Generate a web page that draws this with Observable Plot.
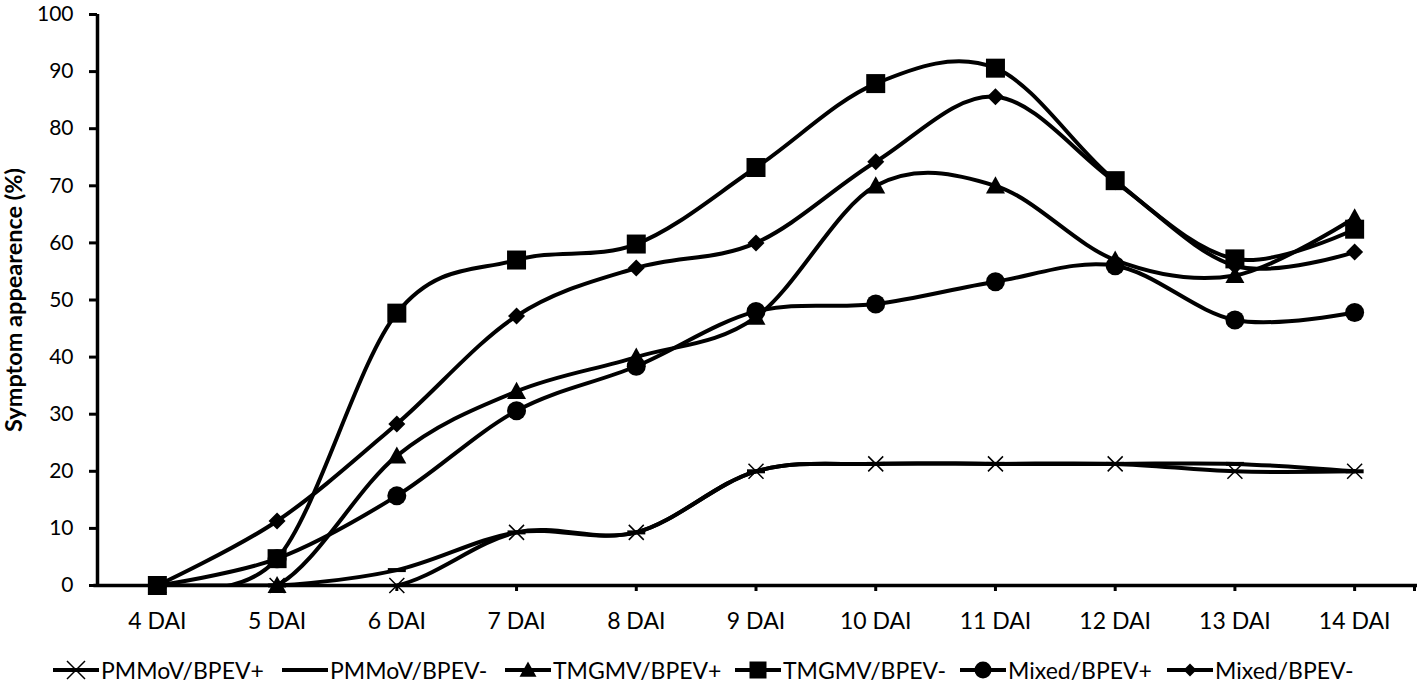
<!DOCTYPE html>
<html>
<head>
<meta charset="utf-8">
<script src="https://cdn.jsdelivr.net/npm/d3@7"></script>
<script src="https://cdn.jsdelivr.net/npm/@observablehq/plot@0.6"></script>
<style>
  body { margin: 0; background: #fff; font-family: Lato, "Open Sans", sans-serif; }
  #wrap { position: relative; width: 1417px; height: 683px; overflow: hidden; }
  #legend { position: absolute; left: 0; top: 640px; width: 1417px; height: 43px; }
  .item { position: absolute; top: 20px; height: 20px; display: flex; align-items: center; white-space: nowrap; }
  .item svg { display: block; margin-right: 2px; }
  .item span { font-size: 23px; color: #000; line-height: 20px; }
</style>
</head>
<body>
<div id="wrap">
  <div id="chart"></div>
  <div id="legend"></div>
</div>
<script>
// ---- data ----
const days = [4, 5, 6, 7, 8, 9, 10, 11, 12, 13, 14];
const dayLabels = ["4 DAI", "5 DAI", "6 DAI", "7 DAI", "8 DAI", "9 DAI", "10 DAI", "11 DAI", "12 DAI", "13 DAI", "14 DAI"];
const yTicks = [0, 10, 20, 30, 40, 50, 60, 70, 80, 90, 100];
const yLabel = "Symptom appearence (%)";
const seriesNames = ["PMMoV/BPEV+", "PMMoV/BPEV-", "TMGMV/BPEV+", "TMGMV/BPEV-", "Mixed/BPEV+", "Mixed/BPEV-"];
const pmmovPlus  = [0, 0, 0, 9.3, 9.3, 20, 21.3, 21.3, 21.3, 20, 20];
const pmmovMinus = [0, 0, 2.7, 9.3, 9.3, 20, 21.3, 21.3, 21.3, 21.3, 20];
const tmgmvPlus  = [0, 0, 22.7, 34, 40, 47, 70, 70, 57, 54.3, 64.4];
const tmgmvMinus = [0, 4.7, 47.7, 57, 59.8, 73.2, 87.9, 90.6, 70.9, 57.2, 62.4];
const mixedPlus  = [0, 4.7, 15.7, 30.6, 38.4, 48, 49.3, 53.2, 56, 46.5, 47.8];
const mixedMinus = [0, 11.3, 28.3, 47.2, 55.6, 60, 74.2, 85.6, 70.7, 56, 58.4];
const seriesValues = [pmmovPlus, pmmovMinus, tmgmvPlus, tmgmvMinus, mixedPlus, mixedMinus];

// ---- symbols (size = PI r^2, so R gives r back) ----
const R = s => Math.sqrt(s / Math.PI);
const symSquare = {draw(c, s) { const r = R(s); c.rect(-r, -r, 2 * r, 2 * r); }};
const symDiamond = {draw(c, s) { const r = R(s); c.moveTo(0, -r); c.lineTo(r, 0); c.lineTo(0, r); c.lineTo(-r, 0); c.closePath(); }};
const symTriangle = {draw(c, s) { const r = R(s); c.moveTo(0, -r); c.lineTo(r, r * 0.8); c.lineTo(-r, r * 0.8); c.closePath(); }};
const symTimes = {draw(c, s) { const r = R(s); c.moveTo(-r, -r); c.lineTo(r, r); c.moveTo(r, -r); c.lineTo(-r, r); }};
const symDash = {draw(c, s) { const r = R(s); c.moveTo(-r, 0); c.lineTo(r, 0); }};
const symCircle = {draw(c, s) { const r = R(s); c.moveTo(r, 0); c.arc(0, 0, r, 0, 2 * Math.PI); }};

const styles = [
  {sym: symTimes, r: 7.5, fill: "none", stroke: "#000", sw: 1.5, lr: 9},
  {sym: symDash, r: 9, fill: "none", stroke: "#000", sw: 4, lr: 9},
  {sym: symTriangle, r: 9.5, fill: "#000", stroke: "none", sw: 0, lr: 8.5},
  {sym: symSquare, r: 9.5, fill: "#000", stroke: "none", sw: 0, lr: 8.5},
  {sym: symCircle, r: 9.5, fill: "#000", stroke: "none", sw: 0, lr: 8.5},
  {sym: symDiamond, r: 8.5, fill: "#000", stroke: "none", sw: 0, lr: 6.5}
];

const rows = seriesNames.flatMap((name, k) => days.map((d, i) => ({series: name, day: d, value: seriesValues[k][i]})));

const labelFor = d => { const i = days.indexOf(d); return i >= 0 ? dayLabels[i] : ""; };

const marks = [
  Plot.ruleY([0], {x1: 3.47, x2: 14.53, stroke: "#000", strokeWidth: 3.5}),
  Plot.ruleX([3.5], {y1: 0, y2: 100, stroke: "#000", strokeWidth: 3.5}),
  Plot.axisY({ticks: yTicks, tickSize: 8, tickPadding: 16, strokeWidth: 3, fontSize: 21, tickFormat: d => String(d), label: null}),
  Plot.axisX({ticks: [...days, 14.5], tickSize: 6, tickPadding: 21, strokeWidth: 3, fontSize: 23, tickFormat: labelFor, label: null}),
  Plot.text([yLabel], {frameAnchor: "left", textAnchor: "middle", rotate: -90, dx: -83, fontSize: 23.5, fontWeight: "bold", fill: "#000"})
];

seriesNames.forEach((name, k) => {
  marks.push(Plot.line(rows.filter(r => r.series === name), {
    x: "day", y: "value", curve: "cardinal", tension: 0, stroke: "#000", strokeWidth: 4, clip: true
  }));
});
seriesNames.forEach((name, k) => {
  const st = styles[k];
  marks.push(Plot.dot(rows.filter(r => r.series === name), {
    x: "day", y: "value", symbol: st.sym, r: st.r, fill: st.fill, stroke: st.stroke, strokeWidth: st.sw
  }));
});

const chart = Plot.plot({
  width: 1417,
  height: 640,
  marginLeft: 97,
  marginRight: 3,
  marginTop: 14,
  marginBottom: 55,
  style: {fontFamily: "Lato, 'Open Sans', sans-serif", color: "#000", background: "#fff"},
  x: {domain: [3.5, 14.5], axis: null},
  y: {domain: [0, 100], axis: null},
  marks
});
document.getElementById("chart").appendChild(chart);

// ---- legend ----
const legendLefts = [53, 282, 505, 735, 960, 1167];
const legend = d3.select("#legend");
seriesNames.forEach((name, k) => {
  const st = styles[k];
  const item = legend.append("div").attr("class", "item").style("left", legendLefts[k] + "px");
  const svg = item.append("svg").attr("width", 46).attr("height", 20);
  svg.append("line").attr("x1", 0).attr("x2", 46).attr("y1", 10).attr("y2", 10).attr("stroke", "#000").attr("stroke-width", 4);
  svg.append("path")
    .attr("transform", "translate(23,10)")
    .attr("d", d3.symbol(st.sym, Math.PI * st.lr * st.lr)())
    .attr("fill", st.fill).attr("stroke", st.stroke).attr("stroke-width", st.sw);
  item.append("span").text(name);
});
</script>
</body>
</html>
